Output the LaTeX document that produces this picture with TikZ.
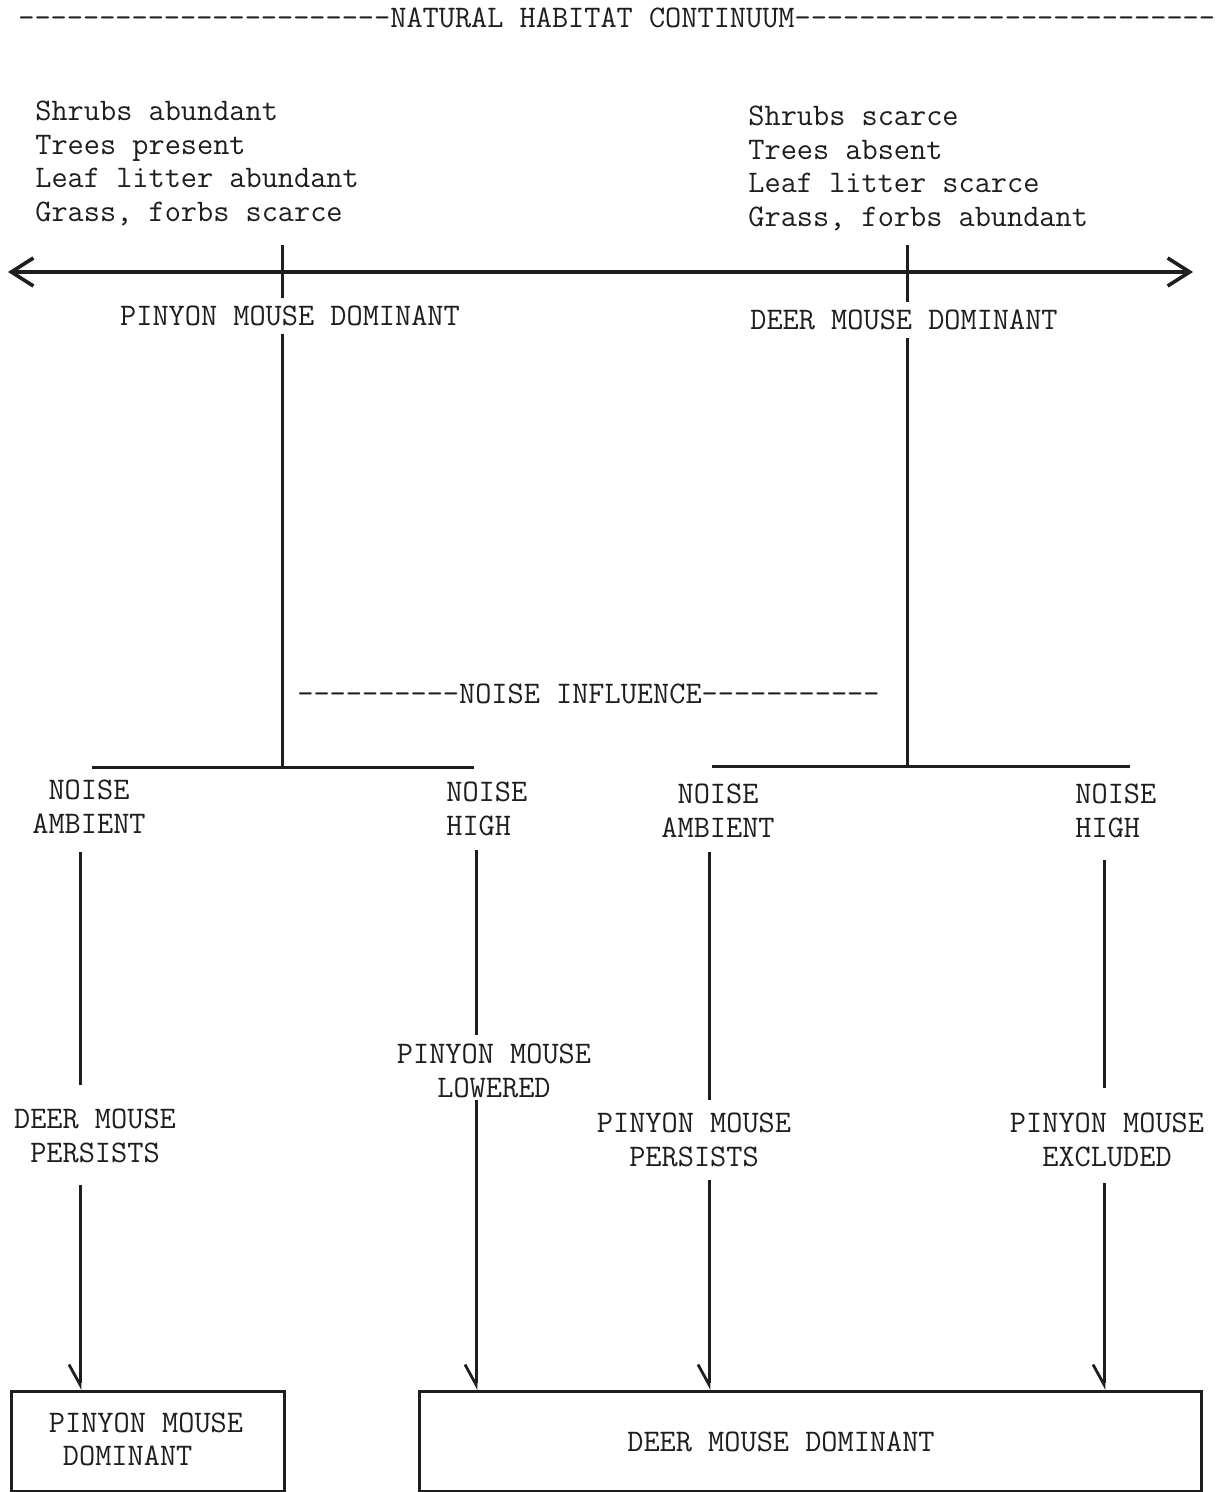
\documentclass[tikz,border=0pt]{standalone}
\usepackage{fontspec}
\usetikzlibrary{arrows.meta}
\definecolor{ink}{HTML}{1E1E1E}
\begin{document}
\begin{tikzpicture}[x=0.5pt,y=-0.5pt,
  txt/.style={inner sep=0pt, font=\ttfamily\fontsize{15.7}{16.85}\selectfont, text=ink, align=center},
  ln/.style={draw=ink, line width=1.5pt},
  arr/.style={ln, -{Straight Barb[harpoon,swap,length=10pt,width=11pt,line width=1.4pt]}},
  boxst/.style={draw=ink, line width=1.6pt, inner sep=0pt}]
\useasboundingbox[fill=white] (0,0) rectangle (1222,1492);

% title
\node[txt, anchor=west] (title) at (18,18) {-----------------------NATURAL HABITAT CONTINUUM--------------------------};

% habitat lists
\node[txt, anchor=west, align=left] (leftlist) at (35,163.5) {Shrubs abundant\\Trees present\\Leaf litter abundant\\Grass, forbs scarce};
\node[txt, anchor=west, align=left] (rightlist) at (748,168.5) {Shrubs scarce\\Trees absent\\Leaf litter scarce\\Grass, forbs abundant};

% continuum arrow
\coordinate (aL) at (8,272);
\coordinate (aR) at (1193,272);
\draw[ln, line width=1.8pt, {Straight Barb[length=11pt,width=14pt,line width=1.8pt]}-{Straight Barb[length=11pt,width=14pt,line width=1.8pt]}] (aL) -- (aR);

% main verticals
\coordinate (v1t) at (282,245);
\coordinate (v1b) at (282,767);
\coordinate (v2t) at (907,245);
\coordinate (v2b) at (907,766);
\draw[ln] (v1t) -- (v1b);
\draw[ln] (v2t) -- (v2b);

\node[txt, fill=white, inner ysep=4pt] (pmd) at (290,316) {PINYON MOUSE DOMINANT};
\node[txt, fill=white, inner ysep=4pt] (dmd) at (904,320) {DEER MOUSE DOMINANT};

% noise influence
\node[txt, anchor=west] (noise) at (297,694) {----------NOISE INFLUENCE-----------};

% branch bars
\coordinate (h1l) at (92,767);
\coordinate (h1r) at (474,767);
\coordinate (h2l) at (712,766);
\coordinate (h2r) at (1130,766);
\draw[ln] (h1l) -- (h1r);
\draw[ln] (h2l) -- (h2r);

% noise labels
\node[txt] (na1) at (89,807) {NOISE\\AMBIENT};
\node[txt, anchor=west, align=left] (nh1) at (446,809) {NOISE\\HIGH};
\node[txt] (na2) at (718,811) {NOISE\\AMBIENT};
\node[txt, anchor=west, align=left] (nh2) at (1075,811) {NOISE\\HIGH};

% outcome labels
\node[txt] (dp) at (95,1136) {DEER MOUSE\\PERSISTS};
\node[txt] (pl) at (494,1071) {PINYON MOUSE\\LOWERED};
\node[txt] (pp) at (694,1140) {PINYON MOUSE\\PERSISTS};
\node[txt] (pe) at (1107,1140) {PINYON MOUSE\\EXCLUDED};

% result boxes
\node[boxst, anchor=north west, minimum width=136.5pt, minimum height=50pt] (b1) at (10,1390) {};
\node[txt, align=left] (b1t) at (146,1439.5) {PINYON MOUSE\\\hspace*{7pt}DOMINANT};
\node[boxst, anchor=north west, minimum width=391pt, minimum height=50pt] (b2) at (418,1390) {};
\node[txt] (b2t) at (781,1442) {DEER MOUSE DOMINANT};

% branch lines
\coordinate (c1a) at (80,852);  \coordinate (c1b) at (80,1085);  \coordinate (c1c) at (80,1185);
\coordinate (c2a) at (476,850); \coordinate (c2b) at (476,1035); \coordinate (c2c) at (476,1100);
\coordinate (c3a) at (709,852); \coordinate (c3b) at (709,1100); \coordinate (c3c) at (709,1180);
\coordinate (c4a) at (1104,860);\coordinate (c4b) at (1104,1088);\coordinate (c4c) at (1104,1183);

\draw[ln] (c1a) -- (c1b);
\draw[ln] (c2a) -- (c2b);
\draw[ln] (c3a) -- (c3b);
\draw[ln] (c4a) -- (c4b);
\draw[arr] (c1c) -- (c1c |- b1.north);
\draw[arr] (c2c) -- (c2c |- b2.north);
\draw[arr] (c3c) -- (c3c |- b2.north);
\draw[arr] (c4c) -- (c4c |- b2.north);
\end{tikzpicture}
\end{document}
